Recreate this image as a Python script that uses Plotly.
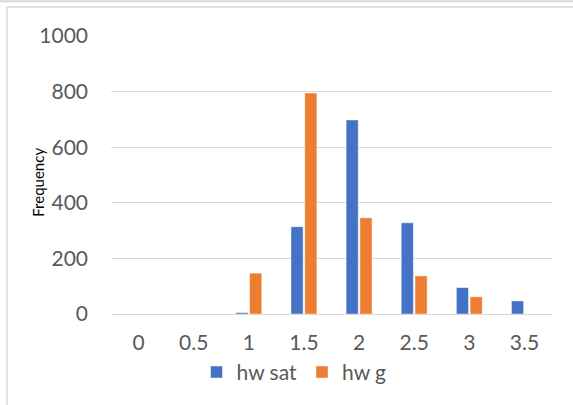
import plotly.graph_objects as go

categories = ["0", "0.5", "1", "1.5", "2", "2.5", "3", "3.5"]
hw_sat = [0, 0, 5, 314, 698, 328, 95, 47]
hw_g = [0, 0, 147, 795, 346, 137, 62, 0]
y_ticks = [0, 200, 400, 600, 800, 1000]

FONT = "Lato"
TXT = "#595959"
FS = 21

fig = go.Figure()
fig.add_trace(go.Bar(name="hw sat", x=categories, y=hw_sat,
                     marker=dict(color="#4472C4", line=dict(color="rgba(255,255,255,0.45)", width=1))))
fig.add_trace(go.Bar(name="hw g", x=categories, y=hw_g,
                     marker=dict(color="#ED7D31", line=dict(color="rgba(255,255,255,0.45)", width=1))))

fig.update_layout(
    width=573, height=405,
    margin=dict(l=111, r=21, t=36, b=91),
    paper_bgcolor="white", plot_bgcolor="white",
    barmode="group", bargap=0.5, bargroupgap=0.12,
    font=dict(family=FONT, color=TXT, size=FS),
    showlegend=True,
    legend=dict(orientation="h", x=0.415, xanchor="center", y=-0.21, yanchor="middle",
                font=dict(size=FS, color=TXT), itemwidth=30, tracegroupgap=0,
                bgcolor="rgba(0,0,0,0)"),
    xaxis=dict(type="category", showgrid=False, showline=False, zeroline=False,
               ticks="", ticklabelstandoff=14, tickfont=dict(size=FS, color=TXT)),
    yaxis=dict(range=[0, 1000], tickvals=y_ticks, showgrid=True, gridcolor="#D9D9D9",
               gridwidth=1, zeroline=True, zerolinecolor="#D9D9D9", zerolinewidth=1,
               showline=False, ticks="", ticklabelstandoff=22,
               tickfont=dict(size=FS, color=TXT)),
    annotations=[
        dict(text="Frequency", xref="paper", yref="paper", x=-0.166, y=0.475,
             xanchor="center", yanchor="middle", textangle=-90, showarrow=False,
             font=dict(family=FONT, size=15, color="#000000")),
    ],
    shapes=[
        dict(type="line", xref="paper", yref="paper", x0=-0.3, x1=1.1, y0=1.125, y1=1.125,
             line=dict(color="#D9D9D9", width=2)),
        dict(type="line", xref="paper", yref="paper", x0=-0.236, x1=1.1, y0=1.104, y1=1.104,
             line=dict(color="#D9D9D9", width=1.5)),
        dict(type="line", xref="paper", yref="paper", x0=-0.236, x1=-0.236, y0=1.104, y1=-0.33,
             line=dict(color="#D9D9D9", width=1.5)),
    ],
)

fig.write_html("out.html")
